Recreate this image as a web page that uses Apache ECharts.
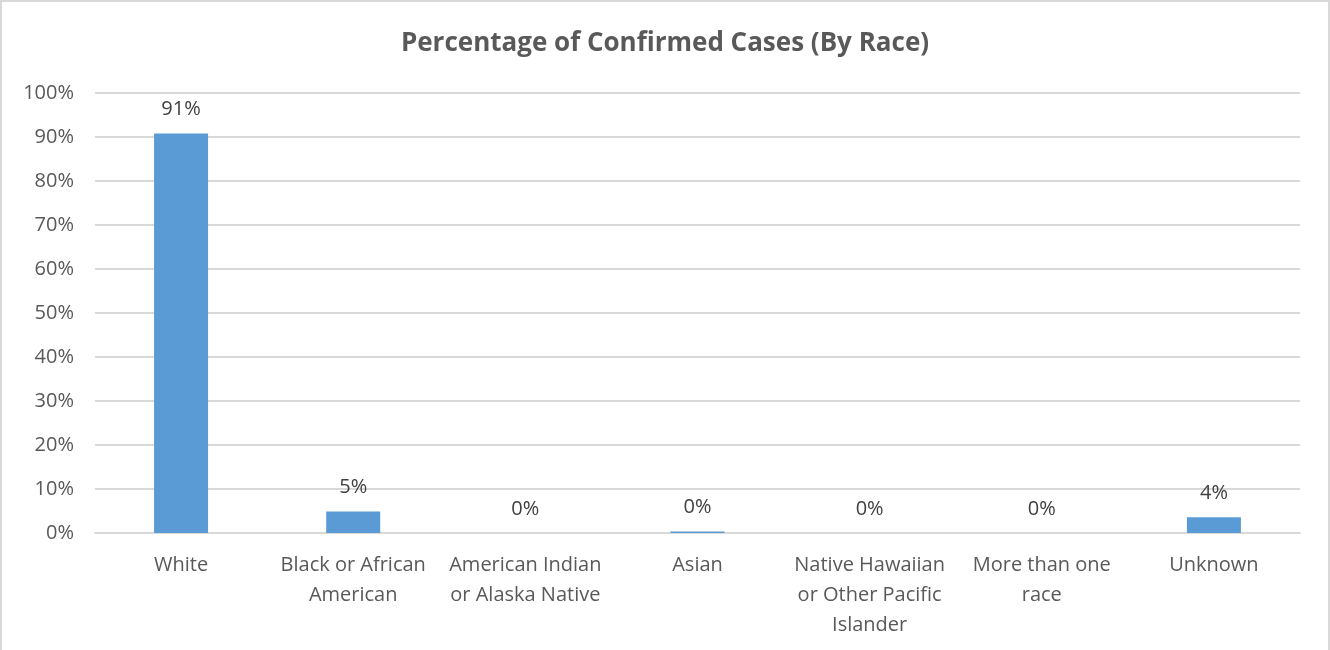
<!DOCTYPE html>
<html>
<head>
<meta charset="utf-8">
<script src="https://cdn.jsdelivr.net/npm/echarts@6/dist/echarts.min.js"></script>
<style>
html,body{margin:0;padding:0;background:#fff;}
#chart{width:1330px;height:650px;box-sizing:border-box;border:2px solid #d9d9d9;border-bottom:none;}
</style>
</head>
<body>
<div id="chart"></div>
<script>
const titleText = 'Percentage of Confirmed Cases (By Race)';
const categories = ['White', 'Black or African American', 'American Indian or Alaska Native', 'Asian', 'Native Hawaiian or Other Pacific Islander', 'More than one race', 'Unknown'];
const percentValues = [90.8, 4.9, 0, 0.35, 0, 0, 3.6];
const yTicks = [0, 10, 20, 30, 40, 50, 60, 70, 80, 90, 100];

function wrapLabel(text, maxChars) {
  const words = text.split(' ');
  const lines = [];
  let cur = '';
  words.forEach(w => {
    const next = cur ? cur + ' ' + w : w;
    if (next.length > maxChars && cur) { lines.push(cur); cur = w; }
    else cur = next;
  });
  if (cur) lines.push(cur);
  return lines.join('\n');
}

const font = '"Open Sans", "Noto Sans", sans-serif';
const chart = echarts.init(document.getElementById('chart'), null, {renderer: 'canvas'});
chart.setOption({
  animation: false,
  title: {
    text: titleText,
    left: 'center',
    top: 24,
    textStyle: {fontFamily: font, fontSize: 26, fontWeight: 'bold', color: '#595959'}
  },
  grid: {left: 93, right: 28, top: 91, bottom: 117, containLabel: false},
  xAxis: {
    type: 'category',
    data: categories,
    axisLine: {show: true, lineStyle: {color: '#d9d9d9', width: 2}},
    axisTick: {show: false},
    axisLabel: {
      interval: 0,
      fontFamily: font,
      fontSize: 20,
      color: '#595959',
      lineHeight: 30,
      margin: 17,
      formatter: v => wrapLabel(v, 16)
    }
  },
  yAxis: {
    type: 'value',
    min: yTicks[0],
    max: yTicks[yTicks.length - 1],
    interval: 10,
    axisLine: {show: false},
    axisTick: {show: false},
    splitLine: {lineStyle: {color: '#d9d9d9', width: 2}},
    axisLabel: {
      fontFamily: font,
      fontSize: 20,
      color: '#595959',
      margin: 21,
      formatter: v => v + '%'
    }
  },
  series: [{
    type: 'bar',
    data: percentValues,
    barWidth: 54,
    itemStyle: {color: '#5b9bd5'},
    label: {
      show: true,
      position: 'top',
      distance: 14,
      fontFamily: font,
      fontSize: 20,
      color: '#404040',
      formatter: p => Math.round(p.value) + '%'
    }
  }]
});
</script>
</body>
</html>
